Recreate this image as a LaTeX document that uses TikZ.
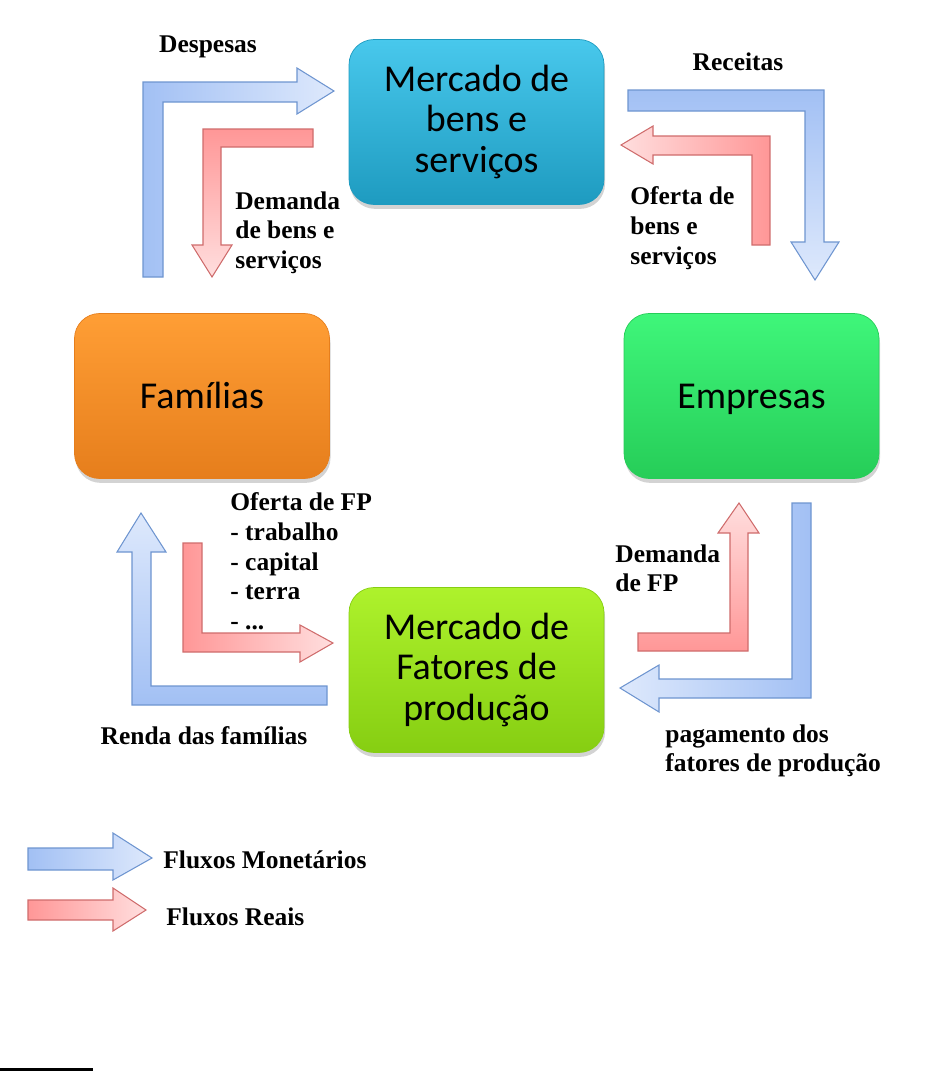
\documentclass[tikz,border=0pt]{standalone}
\usepackage{fontspec}
\setmainfont{Liberation Serif}
\newfontfamily\boxfont{Carlito}
\usetikzlibrary{shadows}
\definecolor{moneydark}{HTML}{A2C0F4}
\definecolor{moneylight}{HTML}{DEE9FC}
\definecolor{moneyedge}{HTML}{6E95D0}
\definecolor{realdark}{HTML}{FF9797}
\definecolor{reallight}{HTML}{FFDEDE}
\definecolor{realedge}{HTML}{CF6C6C}
\definecolor{bensTop}{HTML}{48C8EC}
\definecolor{bensBot}{HTML}{1E9BC0}
\definecolor{famTop}{HTML}{FF9E35}
\definecolor{famBot}{HTML}{E67E1C}
\definecolor{empTop}{HTML}{3FF67A}
\definecolor{empBot}{HTML}{26CD58}
\definecolor{fatTop}{HTML}{AEF22C}
\definecolor{fatBot}{HTML}{86CE12}
\tikzset{
  mkt/.style={rectangle,rounded corners=0.5cm,minimum width=5.1cm,minimum height=3.3cm,
    align=center,font=\boxfont\fontsize{21.6}{23}\selectfont,
    drop shadow={opacity=0.35,shadow xshift=0.6pt,shadow yshift=-2.5pt}},
  oneline/.style={text height=14pt,text depth=0pt},
  money/.style 2 args={draw=moneyedge,line width=0.6pt,#1 color=moneydark,#2 color=moneylight},
  real/.style 2 args={draw=realedge,line width=0.6pt,#1 color=realdark,#2 color=reallight},
  lbl/.style={font=\bfseries\fontsize{14.5}{17}\selectfont,align=left,inner sep=0pt}
}
\begin{document}
\begin{tikzpicture}[x=0.02cm,y=-0.02cm]
\useasboundingbox(0,0)rectangle(947,1072);
\node[mkt,top color=bensTop,bottom color=bensBot,draw=bensBot](bens)at(476.5,122){Mercado de\\bens e\\serviços};
\node[mkt,oneline,top color=famTop,bottom color=famBot,draw=famBot](fam)at(202,396){Famílias};
\node[mkt,oneline,top color=empTop,bottom color=empBot,draw=empBot](emp)at(751.5,396){Empresas};
\node[mkt,top color=fatTop,bottom color=fatBot,draw=fatBot](fat)at(476.5,670){Mercado de\\Fatores de\\produção};
\draw[money={left}{right}](143,277)--(143,82)--(297,82)--(297,68)--(334,91)--(297,114)--(297,102)--(163,102)--(163,277)--cycle;
\draw[real={top}{bottom}](313,129)--(203,129)--(203,245)--(192,245)--(212,277)--(232,245)--(221,245)--(221,147)--(313,147)--cycle;
\draw[money={top}{bottom}](628,90)--(824,90)--(824,242)--(839,242)--(815,280)--(791,242)--(805,242)--(805,111)--(628,111)--cycle;
\draw[real={right}{left}](770,245)--(770,136)--(653,136)--(653,126)--(621,145)--(653,164)--(653,155)--(752,155)--(752,245)--cycle;
\draw[money={bottom}{top}](327,705)--(132,705)--(132,552)--(117,552)--(141,513)--(166,552)--(151,552)--(151,686)--(327,686)--cycle;
\draw[real={left}{right}](183,543)--(183,652)--(300,652)--(300,662)--(333,643)--(300,625)--(300,633)--(202,633)--(202,543)--cycle;
\draw[real={bottom}{top}](638,633)--(730,633)--(730,533)--(718,533)--(739,503)--(759,533)--(748,533)--(748,651)--(638,651)--cycle;
\draw[money={right}{left}](792,503)--(811,503)--(811,698)--(659,698)--(659,712)--(620,688)--(659,665)--(659,679)--(792,679)--cycle;
\draw[money={left}{right}](28,848)--(113,848)--(113,833)--(152,858)--(113,880)--(113,870)--(28,870)--cycle;
\draw[real={left}{right}](28,900)--(113,900)--(113,888)--(146,910)--(113,931)--(113,920)--(28,920)--cycle;
\node[lbl](desp)at(208,47){Despesas};
\node[lbl,anchor=north west](dbens)at(235,191){Demanda\\de bens e\\serviços};
\node[lbl](rec)at(738,62){Receitas};
\node[lbl,anchor=north west](obens)at(630,186){Oferta de\\bens e\\serviços};
\node[lbl,anchor=north west](ofp)at(230,492){Oferta de FP\\- trabalho\\- capital\\- terra\\- ...};
\node[lbl](renda)at(204,736){Renda das famílias};
\node[lbl,anchor=north west](dfp)at(615,544){Demanda\\de FP};
\node[lbl,anchor=north west](pag)at(665,724){pagamento dos\\fatores de produção};
\node[lbl,anchor=west](lmon)at(163,860){Fluxos Monetários};
\node[lbl,anchor=west](lreal)at(166,917){Fluxos Reais};
\draw[line width=1.2pt](0,1069.5)--(93,1069.5);
\end{tikzpicture}
\end{document}
